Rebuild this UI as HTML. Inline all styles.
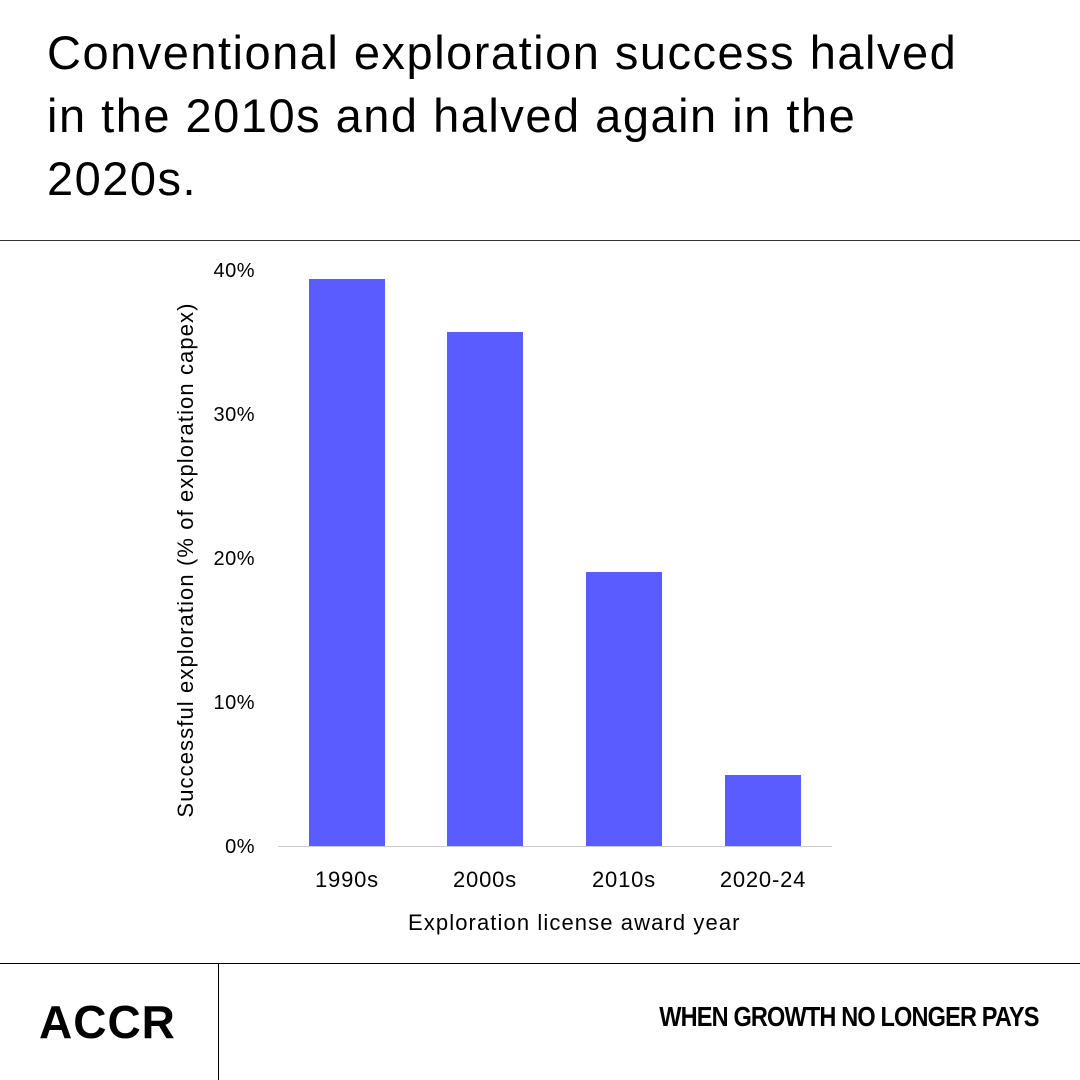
<!DOCTYPE html>
<html><head><meta charset="utf-8"><style>
body{margin:0;width:1080px;height:1080px;background:#fff;position:relative;overflow:hidden;font-family:"Liberation Sans",sans-serif;color:#000}
.t{position:absolute;left:47px;top:21px;font-size:47px;line-height:63px;font-weight:400;letter-spacing:1.5px;white-space:nowrap}
.h{position:absolute;left:0;width:1080px;height:1px;background:#333}
.bar{position:absolute;background:#5a5cff;width:76px}
.yl{position:absolute;left:180px;width:75px;text-align:right;font-size:20px;letter-spacing:0.5px}
.xl{position:absolute;top:867px;font-size:22px;text-align:center;width:140px;letter-spacing:0.8px}
</style></head><body>
<div class="t">Conventional exploration success halved<br>in the 2010s and halved again in the<br>2020s.</div>
<div class="h" style="top:240px"></div>
<div class="yl" style="top:260px">40%</div>
<div class="yl" style="top:404px">30%</div>
<div class="yl" style="top:548px">20%</div>
<div class="yl" style="top:692px">10%</div>
<div class="yl" style="top:836px">0%</div>
<div style="position:absolute;left:186px;top:560px;transform:translate(-50%,-50%) rotate(-90deg);white-space:nowrap;font-size:22px;letter-spacing:1.1px">Successful exploration (% of exploration capex)</div>
<div class="bar" style="left:309px;top:279px;height:567px"></div>
<div class="bar" style="left:447px;top:332px;height:514px"></div>
<div class="bar" style="left:586px;top:572px;height:274px"></div>
<div class="bar" style="left:725px;top:775px;height:71px"></div>
<div style="position:absolute;left:278px;top:846px;width:554px;height:1px;background:#ccc"></div>
<div class="xl" style="left:277px">1990s</div>
<div class="xl" style="left:415px">2000s</div>
<div class="xl" style="left:554px">2010s</div>
<div class="xl" style="left:693px">2020-24</div>
<div style="position:absolute;left:408px;width:360px;top:910px;font-size:22px;letter-spacing:1.1px;white-space:nowrap">Exploration license award year</div>
<div class="h" style="top:963px;background:#000"></div>
<div style="position:absolute;left:218px;top:963px;width:1px;height:117px;background:#000"></div>
<div style="position:absolute;left:39px;top:995px;font-size:46px;font-weight:700;letter-spacing:1px">ACCR</div>
<div style="position:absolute;right:41px;top:1001px;font-size:28px;font-weight:700;letter-spacing:-1px;transform:scaleX(0.84);transform-origin:right;white-space:nowrap">WHEN GROWTH NO LONGER PAYS</div>
</body></html>
